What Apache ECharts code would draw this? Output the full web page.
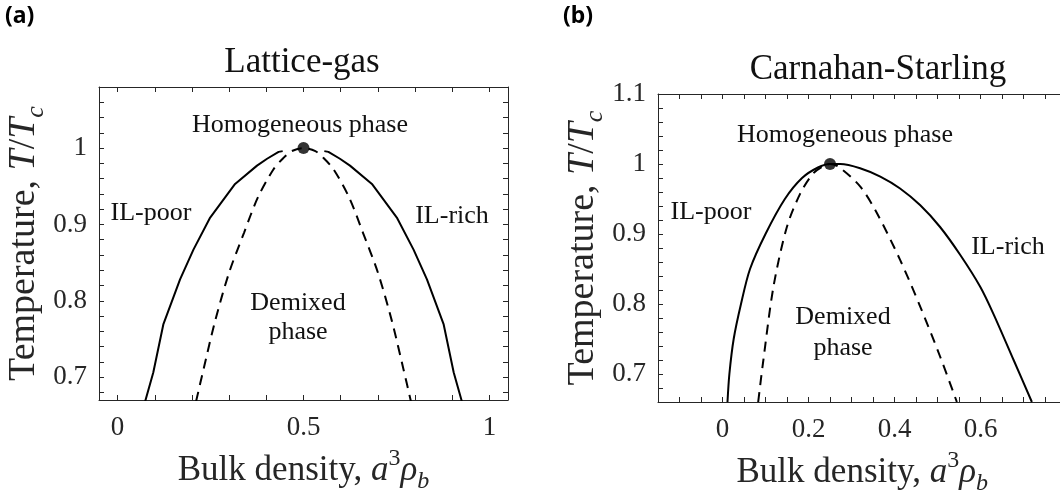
<!DOCTYPE html>
<html>
<head>
<meta charset="utf-8">
<script src="https://cdn.jsdelivr.net/npm/echarts@6/dist/echarts.min.js"></script>
<style>
  html, body { margin: 0; padding: 0; background: #ffffff; }
  #chart { width: 1060px; height: 490px; }
</style>
</head>
<body>
<div id="chart"></div>
<script>
// ---- Lattice-gas model: coexistence (binodal) and stability limit (spinodal) ----
const lgBinodalLeftRho  = [0.074, 0.096, 0.123, 0.168, 0.204, 0.249, 0.316, 0.375, 0.402, 0.433, 0.444];
const lgBinodalLeftT    = [0.668, 0.706, 0.769, 0.828, 0.867, 0.909, 0.953, 0.977, 0.986, 0.995, 0.996];
const lgBinodalRightRho = [0.556, 0.567, 0.598, 0.625, 0.684, 0.751, 0.796, 0.832, 0.877, 0.904, 0.926];
const lgBinodalRightT   = [0.996, 0.995, 0.986, 0.977, 0.953, 0.909, 0.867, 0.828, 0.769, 0.706, 0.668];
const lgSpinodalRho     = [0.211, 0.231, 0.262, 0.300, 0.340, 0.377, 0.419, 0.446, 0.468, 0.500, 0.532, 0.554, 0.581, 0.623, 0.660, 0.700, 0.738, 0.769, 0.789];
const lgSpinodalT       = [0.668, 0.710, 0.773, 0.837, 0.889, 0.935, 0.972, 0.987, 0.996, 1.000, 0.996, 0.987, 0.972, 0.935, 0.889, 0.837, 0.773, 0.710, 0.668];
const lgCritical        = [0.5, 1.0];

// ---- Carnahan-Starling model ----
const csBinodalRho  = [0.0116, 0.016, 0.026, 0.043, 0.064, 0.100, 0.145, 0.185, 0.222, 0.250, 0.274, 0.320, 0.367, 0.413, 0.460, 0.506, 0.553, 0.599, 0.630, 0.677, 0.7195];
const csBinodalT    = [0.660, 0.700, 0.750, 0.800, 0.850, 0.900, 0.950, 0.980, 0.995, 1.000, 1.000, 0.994, 0.982, 0.965, 0.941, 0.910, 0.870, 0.825, 0.786, 0.720, 0.660];
const csSpinodalRho = [0.083, 0.094, 0.1186, 0.1497, 0.181, 0.2116, 0.239, 0.250, 0.270, 0.320, 0.359, 0.413, 0.460, 0.506, 0.545];
const csSpinodalT   = [0.660, 0.715, 0.825, 0.910, 0.958, 0.987, 0.9986, 1.000, 0.996, 0.968, 0.930, 0.863, 0.796, 0.725, 0.660];
const csCritical    = [0.25, 1.0];

// ---- Axis ticks ----
const lgXLabels = [0, 0.5, 1];
const lgXTicks  = [0, 0.1, 0.2, 0.3, 0.4, 0.5, 0.6, 0.7, 0.8, 0.9, 1.0];
const lgYLabels = [0.7, 0.8, 0.9, 1];
const lgYTicks  = [0.68, 0.70, 0.72, 0.74, 0.76, 0.78, 0.80, 0.82, 0.84, 0.86, 0.88, 0.90, 0.92, 0.94, 0.96, 0.98, 1.00, 1.02, 1.04, 1.06, 1.08];
const csXLabels = [0, 0.2, 0.4, 0.6];
const csXTicks  = [-0.1, -0.05, 0, 0.05, 0.1, 0.15, 0.2, 0.25, 0.3, 0.35, 0.4, 0.45, 0.5, 0.55, 0.6, 0.65, 0.7, 0.75, 0.8];
const csYLabels = [0.7, 0.8, 0.9, 1, 1.1];
const csYTicks  = [0.68, 0.70, 0.72, 0.74, 0.76, 0.78, 0.80, 0.82, 0.84, 0.86, 0.88, 0.90, 0.92, 0.94, 0.96, 0.98, 1.00, 1.02, 1.04, 1.06, 1.08, 1.10];

const zip = (xs, ys) => xs.map((x, i) => [x, ys[i]]);

const SERIF = '"Liberation Serif", "DejaVu Serif", serif';
const AXIS_COLOR = '#262626';
const TICK_FONT = 27;
const XNAME_FONT = 35;
const YNAME_FONT = 38;
const NOTE_FONT = 26;
const TITLE_FONT = 35;

function nameRich(size) {
  const small = Math.round(size * 0.68);
  return {
    r:   { fontFamily: SERIF, fontSize: size, color: AXIS_COLOR, lineHeight: size + 12 },
    i:   { fontFamily: SERIF, fontSize: size, fontStyle: 'italic', color: AXIS_COLOR, lineHeight: size + 12 },
    sup: { fontFamily: SERIF, fontSize: small, color: AXIS_COLOR, verticalAlign: 'top', lineHeight: small + 8 },
    sub: { fontFamily: SERIF, fontSize: small, fontStyle: 'italic', color: AXIS_COLOR, verticalAlign: 'bottom', lineHeight: small + 4 }
  };
}

function xAxisPair(gridIndex, min, max, labels, ticks) {
  const common = {
    type: 'value', gridIndex, min, max,
    axisLine: { show: true, onZero: false, lineStyle: { color: AXIS_COLOR, width: 1 } },
    axisTick: { show: true, inside: true, length: 5, customValues: ticks, lineStyle: { color: AXIS_COLOR, width: 1 } },
    splitLine: { show: false }
  };
  return [
    Object.assign({}, common, {
      position: 'bottom',
      axisLabel: { show: true, customValues: labels, fontFamily: SERIF, fontSize: TICK_FONT, color: AXIS_COLOR, margin: 14 },
      name: '{r|Bulk density, }{i|a}{sup|3}{i|ρ}{sub|b}',
      nameLocation: 'middle', nameGap: 47,
      nameTextStyle: { rich: nameRich(XNAME_FONT) }
    }),
    Object.assign({}, common, { position: 'top', axisLabel: { show: false } })
  ];
}

function yAxisPair(gridIndex, min, max, labels, ticks, rightTicks) {
  const common = {
    type: 'value', gridIndex, min, max,
    axisLine: { show: true, onZero: false, lineStyle: { color: AXIS_COLOR, width: 1 } },
    axisTick: { show: true, inside: true, length: 5, customValues: ticks, lineStyle: { color: AXIS_COLOR, width: 1 } },
    splitLine: { show: false }
  };
  return [
    Object.assign({}, common, {
      position: 'left',
      axisLabel: { show: true, customValues: labels, fontFamily: SERIF, fontSize: TICK_FONT, color: AXIS_COLOR, margin: 12 },
      name: '{r|Temperature, }{i|T}{r|/}{i|T}{sub|c}',
      nameLocation: 'middle', nameGap: 47, nameRotate: 90,
      nameTextStyle: { rich: nameRich(YNAME_FONT) }
    }),
    Object.assign({}, common, {
      position: 'right', axisLabel: { show: false },
      axisTick: Object.assign({}, common.axisTick, { show: rightTicks })
    })
  ];
}

const xA = xAxisPair(0, -0.05, 1.05, lgXLabels, lgXTicks);
const xB = xAxisPair(1, -0.15, 0.8, csXLabels, csXTicks);
const yA = yAxisPair(0, 0.67, 1.08, lgYLabels, lgYTicks, true);
const yB = yAxisPair(1, 0.66, 1.1, csYLabels, csYTicks, false);

function lineSeries(xi, yi, data, dashed, smooth) {
  return {
    type: 'line', xAxisIndex: xi, yAxisIndex: yi, data,
    showSymbol: false, symbol: 'none', clip: true,
    smooth: smooth || false,
    lineStyle: { color: '#000000', width: 2, type: dashed ? [10, 7] : 'solid' },
    z: 3
  };
}

function criticalPoint(xi, yi, pt) {
  return {
    type: 'scatter', xAxisIndex: xi, yAxisIndex: yi, data: [pt],
    symbol: 'circle', symbolSize: 12, itemStyle: { color: '#000000' }, z: 5
  };
}

function note(text, x, y, size) {
  return {
    type: 'text', x, y, z: 10,
    style: { text, fontFamily: SERIF, fontSize: size || NOTE_FONT, fill: '#111111', align: 'center', verticalAlign: 'middle' }
  };
}

function panelTag(text, x, y) {
  return {
    type: 'text', x, y, z: 10,
    style: { text, fontFamily: '"Noto Sans", "DejaVu Sans", sans-serif', fontWeight: 'bold', fontSize: 23, fill: '#000000', align: 'left', verticalAlign: 'middle' }
  };
}

const chart = echarts.init(document.getElementById('chart'), null, { renderer: 'canvas' });
chart.setOption({
  animation: false,
  backgroundColor: '#ffffff',
  grid: [
    { left: 99, top: 87, width: 409, height: 313, outerBoundsMode: 'none', containLabel: false },
    { left: 658, top: 94, width: 408.5, height: 308, outerBoundsMode: 'none', containLabel: false }
  ],
  xAxis: [xA[0], xA[1], xB[0], xB[1]],
  yAxis: [yA[0], yA[1], yB[0], yB[1]],
  series: [
    lineSeries(0, 0, zip(lgBinodalLeftRho, lgBinodalLeftT), false),
    lineSeries(0, 0, zip(lgBinodalRightRho, lgBinodalRightT), false),
    lineSeries(0, 0, zip(lgSpinodalRho, lgSpinodalT), true, 0.3),
    criticalPoint(0, 0, lgCritical),
    lineSeries(2, 2, zip(csBinodalRho, csBinodalT), false, 0.3),
    lineSeries(2, 2, zip(csSpinodalRho, csSpinodalT), true, 0.3),
    criticalPoint(2, 2, csCritical)
  ],
  graphic: [
    panelTag('(a)', 5, 16),
    panelTag('(b)', 563, 16),
    note('Lattice-gas', 302, 63, TITLE_FONT),
    note('Carnahan-Starling', 878, 70, TITLE_FONT),
    note('Homogeneous phase', 300, 125),
    note('IL-poor', 151, 213),
    note('IL-rich', 452, 216),
    note('Demixed', 298, 303),
    note('phase', 298, 332),
    note('Homogeneous phase', 845, 135),
    note('IL-poor', 711, 212),
    note('IL-rich', 1008, 247),
    note('Demixed', 843, 317),
    note('phase', 843, 348)
  ]
});
</script>
</body>
</html>
